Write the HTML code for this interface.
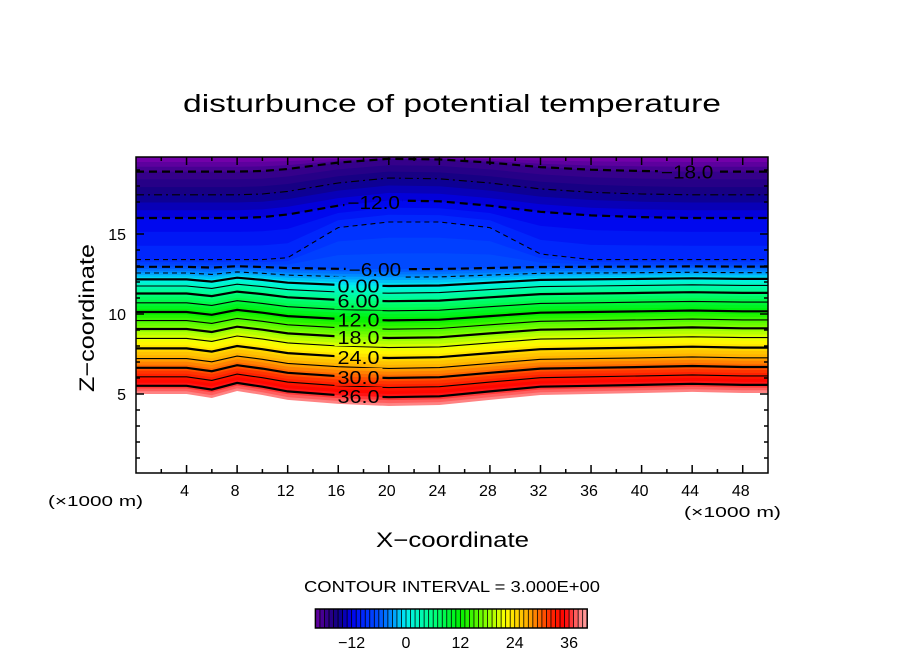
<!DOCTYPE html>
<html><head><meta charset="utf-8"><style>
body{margin:0;background:#fff;}
svg{display:block;font-family:"Liberation Sans",sans-serif;}
</style></head><body>
<svg id="chart" width="904" height="654" viewBox="0 0 904 654">
<defs>
<clipPath id="plotclip"><rect x="136" y="157" width="632" height="316"/></clipPath>
<mask id="labmask" maskUnits="userSpaceOnUse" x="0" y="0" width="904" height="654"><rect x="0" y="0" width="904" height="654" fill="#fff"/><g id="maskholes"></g></mask>
</defs>
<text x="183" y="112" font-size="25" textLength="538" lengthAdjust="spacingAndGlyphs" fill="#000">disturbunce of potential temperature</text>
<g id="fills" clip-path="url(#plotclip)"></g>
<g id="lines" clip-path="url(#plotclip)" mask="url(#labmask)"></g>
<g id="labels"></g>
<rect x="136" y="157" width="632" height="316" fill="none" stroke="#000" stroke-width="1.5"/>
<g id="axes"></g>
<text x="48" y="506" font-size="15" textLength="95" lengthAdjust="spacingAndGlyphs">(×1000 m)</text>
<text x="684" y="517" font-size="15" textLength="97" lengthAdjust="spacingAndGlyphs">(×1000 m)</text>
<text x="376" y="547" font-size="21" textLength="153" lengthAdjust="spacingAndGlyphs">X−coordinate</text>
<text transform="translate(94,392) rotate(-90)" font-size="21" textLength="148" lengthAdjust="spacingAndGlyphs">Z−coordinate</text>
<text x="304" y="592" font-size="16" textLength="296" lengthAdjust="spacingAndGlyphs">CONTOUR INTERVAL = 3.000E+00</text>
<g id="cbar"></g>
</svg>
<script>
// ---- data ----
const xs = [0,4,6,8,10,12,16,20,24,28,32,36,40,44,48,50];
const bottomZ = [5.0,5.0,4.75,5.19,4.94,4.63,4.38,4.25,4.31,4.63,4.94,5.0,5.06,5.13,5.06,5.06];
const upperShape = [0,0,0,0,0.05,0.2,0.7,1,0.95,0.7,0.35,0.15,0.05,0,0,0];
const domeShape = [0,0,0,0,0,0.05,0.85,1,1,0.85,0.15,0,0,0,0,0];
const lowerLevels = [36,33,30,27,24,21,18,15,12,9,6,3,0,-3,-6];
const lowerCenterZ = [4.8,5.4,6.0,6.6,7.25,7.9,8.5,9.05,9.6,10.2,10.8,11.3,11.75,12.3,12.8];
const lowerAmp = [0.95,0.9,0.85,0.82,0.8,0.77,0.75,0.72,0.7,0.67,0.64,0.6,0.55,0.35,0.2];
const upperLevels = [-9,-12,-15,-18,-21];
const upperEdgeZ = [13.4,16.0,17.45,18.9,19.8];
const upperCenterZ = [15.75,17.1,18.5,19.7,19.8];
const cbarTicks = [-12,0,12,24,36];
// ---- scales ----
const X = x => 136 + x*632/50;
const Y = z => 474 - z*16;
const svgNS = "http://www.w3.org/2000/svg";
function mk(tag, attrs, parent){const e=document.createElementNS(svgNS,tag);for(const k in attrs)e.setAttribute(k,attrs[k]);parent.appendChild(e);return e;}
function colorOf(v){
  const stops=[[-21,[125,0,175]],[-18,[60,0,140]],[-15,[15,0,130]],[-12,[0,0,235]],[-9,[0,45,255]],[-6,[0,80,255]],[-3,[0,150,255]],[0,[0,240,240]],[6,[0,255,130]],[12,[0,240,0]],[18,[140,255,0]],[22,[255,255,0]],[27,[255,170,0]],[32,[255,40,0]],[35,[255,0,0]],[39,[255,150,150]]];
  if(v<=stops[0][0])return `rgb(${stops[0][1]})`;
  for(let i=1;i<stops.length;i++){if(v<=stops[i][0]){const[a,ca]=stops[i-1],[b,cb]=stops[i];const t=(v-a)/(b-a);return `rgb(${ca.map((c,j)=>Math.round(c+(cb[j]-c)*t)).join(',')})`;}}
  return `rgb(${stops[stops.length-1][1]})`;
}
const curves=[{v:39,z:bottomZ.slice()}];
const sMin=Math.min(...bottomZ);
lowerLevels.forEach((v,i)=>curves.push({v,z:bottomZ.map(b=>lowerCenterZ[i]+lowerAmp[i]*(b-sMin))}));
upperLevels.forEach((v,i)=>{const sh=v===-9?domeShape:upperShape;curves.push({v,z:sh.map(s=>upperEdgeZ[i]+(upperCenterZ[i]-upperEdgeZ[i])*s)});});
const fillsG=document.getElementById('fills');
const pathOf=z=>xs.map((x,k)=>`${k?'L':'M'}${X(x).toFixed(1)},${Y(z[k]).toFixed(1)}`).join(' ');
for(let i=0;i<curves.length-1;i++){
  const a=curves[i],b=curves[i+1];
  for(let s=0;s<3;s++){
    const t=s/3;const z=a.z.map((za,k)=>za+(b.z[k]-za)*t);
    const v=a.v+(b.v-a.v)*(t+1/6);
    const p=mk('path',{d:pathOf(z)+` L${X(50)},150 L${X(0)},150 Z`,fill:colorOf(v)},fillsG);
    
    
  }
}
const linesG=document.getElementById('lines');
curves.slice(1).forEach(c=>{
  if(c.v===-21)return;
  const thick=c.v%6===0;
  const attrs={d:pathOf(c.z),fill:'none',stroke:'#000','stroke-width':thick?2.2:1.1};
  if(c.v<0)attrs['stroke-dasharray']=thick?'8,5':'5,4';
  if(c.v===-15)attrs['stroke-dasharray']='8,4,2,4';
  const p=mk('path',attrs,linesG);
  
  
});
const labelDefs=[[36,'36.0',17.6],[30,'30.0',17.6],[24,'24.0',17.6],[18,'18.0',17.6],[12,'12.0',17.6],[6,'6.00',17.6],[0,'0.00',17.6],[-6,'-6.00',18.9],[-12,'-12.0',18.8],[-18,'-18.0',43.6]];
const labG=document.getElementById('labels'),holes=document.getElementById('maskholes');
labelDefs.forEach(([v,txt,xv])=>{
  const c=curves.find(q=>q.v===v);
  let k=0;while(k<xs.length-2&&xs[k+1]<xv)k++;
  const t=(xv-xs[k])/(xs[k+1]-xs[k]);const z=c.z[k]+(c.z[k+1]-c.z[k])*t;
  const w=txt.length*10.5;
  mk('rect',{x:X(xv)-w/2-3,y:Y(z)-9,width:w+6,height:18,fill:'#000'},holes);
  const e=mk('text',{x:X(xv)-w/2,y:Y(z)+7,'font-size':18,textLength:w,lengthAdjust:'spacingAndGlyphs',fill:'#000'},labG);
  e.textContent=txt.replace('-','−');
  
  
});
const ax=document.getElementById('axes');
for(let x=2;x<50;x+=2){const L=x%4===0?8:4;
  mk('line',{x1:X(x),x2:X(x),y1:473,y2:473-L,stroke:'#000','stroke-width':1.5},ax);
  mk('line',{x1:X(x),x2:X(x),y1:157,y2:157+L,stroke:'#000','stroke-width':1.5},ax);
  if(x%4===0){const t=mk('text',{x:X(x)-2,y:496,'font-size':16,'text-anchor':'middle'},ax);t.textContent=x;
    
    }
}
for(let z=1;z<20;z++){const L=z%5===0?8:4;
  mk('line',{x1:136,x2:136+L,y1:Y(z),y2:Y(z),stroke:'#000','stroke-width':1.5},ax);
  mk('line',{x1:768,x2:768-L,y1:Y(z),y2:Y(z),stroke:'#000','stroke-width':1.5},ax);
  if(z%5===0){const t=mk('text',{x:126,y:Y(z)+6,'font-size':16,'text-anchor':'end'},ax);t.textContent=z;
    
    }
}
const cb=document.getElementById('cbar');
const CX=v=>406+(v)*4.53;
for(let v=-20;v<40;v+=1){
  const r=mk('rect',{x:CX(v),y:609,width:4.53,height:19,fill:colorOf(v+0.5)},cb);
  
  
  mk('line',{x1:CX(v),x2:CX(v),y1:609,y2:628,stroke:'#000','stroke-width':0.8},cb);
}
mk('rect',{x:CX(-20),y:609,width:CX(40)-CX(-20),height:19,fill:'none',stroke:'#000','stroke-width':1.5},cb);
cbarTicks.forEach(v=>{const t=mk('text',{x:CX(v),y:648,'font-size':16,'text-anchor':'middle'},cb);t.textContent=String(v).replace('-','−');
  
  });
</script>
</body></html>
